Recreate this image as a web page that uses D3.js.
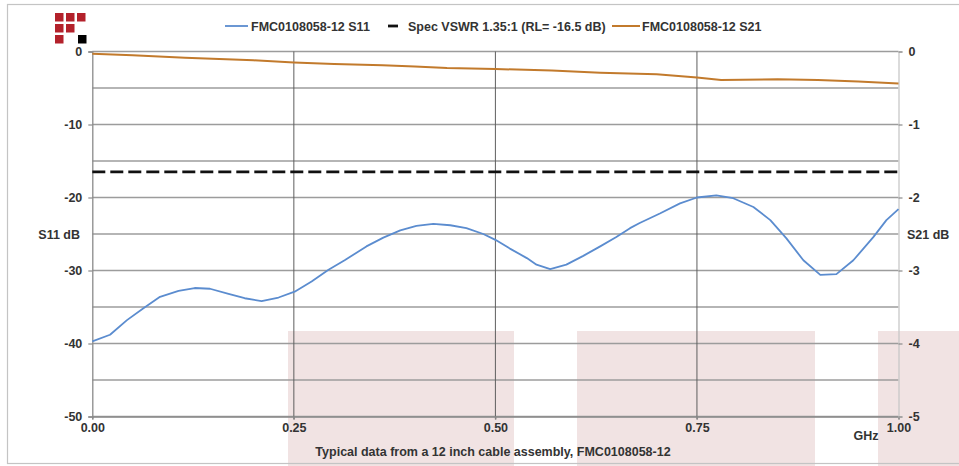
<!DOCTYPE html>
<html>
<head>
<meta charset="utf-8">
<script src="https://cdn.jsdelivr.net/npm/d3@7"></script>
<style>
  html, body { margin: 0; padding: 0; background: #fff; }
  svg { display: block; font-family: "Liberation Sans", Arial, sans-serif; }
</style>
</head>
<body>
<div id="chart"></div>
<script>
// S11 return loss (GHz, dB)
const s11Freq = [0.000, 0.022, 0.043, 0.063, 0.084, 0.107, 0.127, 0.146, 0.169, 0.189,
  0.210, 0.231, 0.251, 0.272, 0.293, 0.313, 0.340, 0.361, 0.382, 0.402,
  0.423, 0.444, 0.464, 0.485, 0.500, 0.518, 0.539, 0.551, 0.568, 0.588,
  0.609, 0.630, 0.650, 0.667, 0.679, 0.704, 0.729, 0.750, 0.774, 0.795,
  0.820, 0.841, 0.861, 0.882, 0.903, 0.923, 0.944, 0.969, 0.985, 1.000];
const s11Db = [-39.7, -38.8, -36.8, -35.2, -33.6, -32.8, -32.4, -32.5, -33.2, -33.8,
  -34.2, -33.7, -32.9, -31.5, -29.9, -28.6, -26.7, -25.5, -24.5, -23.9,
  -23.6, -23.8, -24.2, -25.0, -25.8, -27.0, -28.3, -29.2, -29.8, -29.2,
  -28.0, -26.7, -25.4, -24.2, -23.5, -22.2, -20.8, -20.0, -19.7, -20.1,
  -21.3, -23.1, -25.6, -28.6, -30.6, -30.5, -28.6, -25.4, -23.1, -21.6];

// S21 insertion loss (GHz, dB) on the right axis
const s21Freq = [0.000, 0.050, 0.115, 0.200, 0.250, 0.300, 0.360, 0.400, 0.440, 0.500,
  0.570, 0.630, 0.700, 0.750, 0.780, 0.850, 0.900, 0.950, 1.000];
const s21Db = [-0.03, -0.05, -0.085, -0.12, -0.15, -0.17, -0.19, -0.205, -0.225, -0.24,
  -0.26, -0.29, -0.31, -0.355, -0.39, -0.38, -0.39, -0.41, -0.44];

const specDb = -16.5;

const xTicks = [0, 0.25, 0.5, 0.75, 1];
const leftTicks = [0, -10, -20, -30, -40, -50];
const rightTicks = [0, -1, -2, -3, -4, -5];
const gridTicks = [0, -5, -10, -15, -20, -25, -30, -35, -40, -45, -50];

const legendLabels = ["FMC0108058-12 S11", "Spec VSWR 1.35:1 (RL= -16.5 dB)", "FMC0108058-12 S21"];

const colors = {
  s11: "#5b8ccf",
  s21: "#c27a2c",
  spec: "#111",
  text: "#333",
  hgrid: "#9c9c9c",
  vgrid: "#5e5e5e",
  pink: "#f1e3e3",
  logo: "#b3212b",
};

const width = 959, height = 466;
const plot = { left: 92.3, right: 898.5, top: 51.5, bottom: 416.5 };

const svg = d3.select("#chart").append("svg")
  .attr("width", width)
  .attr("height", height);

const x = d3.scaleLinear().domain([0, 1]).range([plot.left, plot.right]);
const y = d3.scaleLinear().domain([-50, 0]).range([plot.bottom, plot.top]);
const y2 = d3.scaleLinear().domain([-5, 0]).range([plot.bottom, plot.top]);

// pink blocks along the bottom
[[288, 514], [577, 815], [878, 960]].forEach(([a, b]) => {
  svg.append("rect")
    .attr("x", a).attr("y", 331)
    .attr("width", b - a).attr("height", height - 331)
    .attr("fill", colors.pink);
});

// outer frame
svg.append("rect")
  .attr("x", 7.5).attr("y", 4.5)
  .attr("width", 956).attr("height", 459)
  .attr("fill", "none")
  .attr("stroke", "#c4c4c4")
  .attr("stroke-width", 1.2);

// logo
const logoCells = [[0, 0], [1, 0], [2, 0], [0, 1], [1, 1], [0, 2]];
svg.append("g").selectAll("rect")
  .data(logoCells)
  .join("rect")
  .attr("x", (d) => 55 + d[0] * 11)
  .attr("y", (d) => 13 + d[1] * 11)
  .attr("width", 8.5).attr("height", 8.5)
  .attr("fill", colors.logo);
svg.append("rect")
  .attr("x", 78).attr("y", 35)
  .attr("width", 8.5).attr("height", 8.5)
  .attr("fill", "#000");

// horizontal gridlines
svg.append("g").selectAll("line")
  .data(gridTicks)
  .join("line")
  .attr("x1", plot.left).attr("x2", plot.right)
  .attr("y1", (d) => y(d)).attr("y2", (d) => y(d))
  .attr("stroke", colors.hgrid)
  .attr("stroke-width", 1.3);

// vertical gridlines
svg.append("g").selectAll("line")
  .data([0.25, 0.5, 0.75])
  .join("line")
  .attr("x1", (d) => x(d)).attr("x2", (d) => x(d))
  .attr("y1", plot.top).attr("y2", plot.bottom + 3)
  .attr("stroke", colors.vgrid)
  .attr("stroke-width", 1);

// axes
const fontSize = "12.5px";
const plain = (d) => String(d); // keep the ASCII hyphen as in the original

const xAxis = svg.append("g")
  .attr("transform", `translate(0,${plot.bottom})`)
  .call(d3.axisBottom(x).tickValues(xTicks).tickFormat(d3.format(".2f")).tickSize(3).tickPadding(4));

const yAxis = svg.append("g")
  .attr("transform", `translate(${plot.left},0)`)
  .call(d3.axisLeft(y).tickValues(leftTicks).tickFormat(plain).tickSize(4).tickPadding(6));

const y2Axis = svg.append("g")
  .attr("transform", `translate(${plot.right},0)`)
  .call(d3.axisRight(y2).tickValues(rightTicks).tickFormat(plain).tickSize(4).tickPadding(6));

[xAxis, yAxis, y2Axis].forEach((g) => {
  g.select(".domain").attr("stroke", "#8a8a8a").attr("stroke-width", 1.3);
  g.selectAll(".tick line").attr("stroke", "#8a8a8a").attr("stroke-width", 1.2);
  g.selectAll(".tick text")
    .attr("fill", colors.text)
    .style("font-family", "'Liberation Sans', Arial, sans-serif")
    .style("font-size", fontSize)
    .style("font-weight", "bold");
});
y2Axis.select(".domain").attr("stroke", "#c8c8c8");

// axis titles
const labelStyle = (sel) => sel
  .attr("fill", colors.text)
  .style("font-size", fontSize)
  .style("font-weight", "bold");

svg.append("text").attr("x", 80).attr("y", y(-25) + 4.5)
  .attr("text-anchor", "end").text("S11 dB").call(labelStyle);
svg.append("text").attr("x", 907).attr("y", y(-25) + 4.5)
  .text("S21 dB").call(labelStyle);
svg.append("text").attr("x", 866).attr("y", 440)
  .attr("text-anchor", "middle").text("GHz").call(labelStyle);
svg.append("text").attr("x", 493).attr("y", 456)
  .attr("text-anchor", "middle")
  .text("Typical data from a 12 inch cable assembly, FMC0108058-12").call(labelStyle);

// spec line
svg.append("line")
  .attr("x1", x(0)).attr("x2", x(1))
  .attr("y1", y(specDb)).attr("y2", y(specDb))
  .attr("stroke", colors.spec)
  .attr("stroke-width", 2.8)
  .attr("stroke-dasharray", "13,5");

// data lines
const s11Line = d3.line().x((d, i) => x(s11Freq[i])).y((d) => y(d));
svg.append("path")
  .datum(s11Db)
  .attr("d", s11Line)
  .attr("fill", "none")
  .attr("stroke", colors.s11)
  .attr("stroke-width", 1.8)
  .attr("stroke-linejoin", "round");

const s21Line = d3.line().x((d, i) => x(s21Freq[i])).y((d) => y2(d));
svg.append("path")
  .datum(s21Db)
  .attr("d", s21Line)
  .attr("fill", "none")
  .attr("stroke", colors.s21)
  .attr("stroke-width", 2)
  .attr("stroke-linejoin", "round");

// legend
const legend = svg.append("g").attr("transform", "translate(0,26)");
const legendItems = [
  { x1: 225, x2: 248, tx: 251, color: colors.s11, w: 1.8 },
  { x1: 388, x2: 398, tx: 408, color: colors.spec, w: 2.8 },
  { x1: 612, x2: 640, tx: 642, color: colors.s21, w: 2 },
];
legendItems.forEach((d, i) => {
  legend.append("line")
    .attr("x1", d.x1).attr("x2", d.x2)
    .attr("stroke", d.color).attr("stroke-width", d.w);
  legend.append("text")
    .attr("x", d.tx).attr("y", 4.5)
    .text(legendLabels[i])
    .call(labelStyle);
});
</script>
</body>
</html>
